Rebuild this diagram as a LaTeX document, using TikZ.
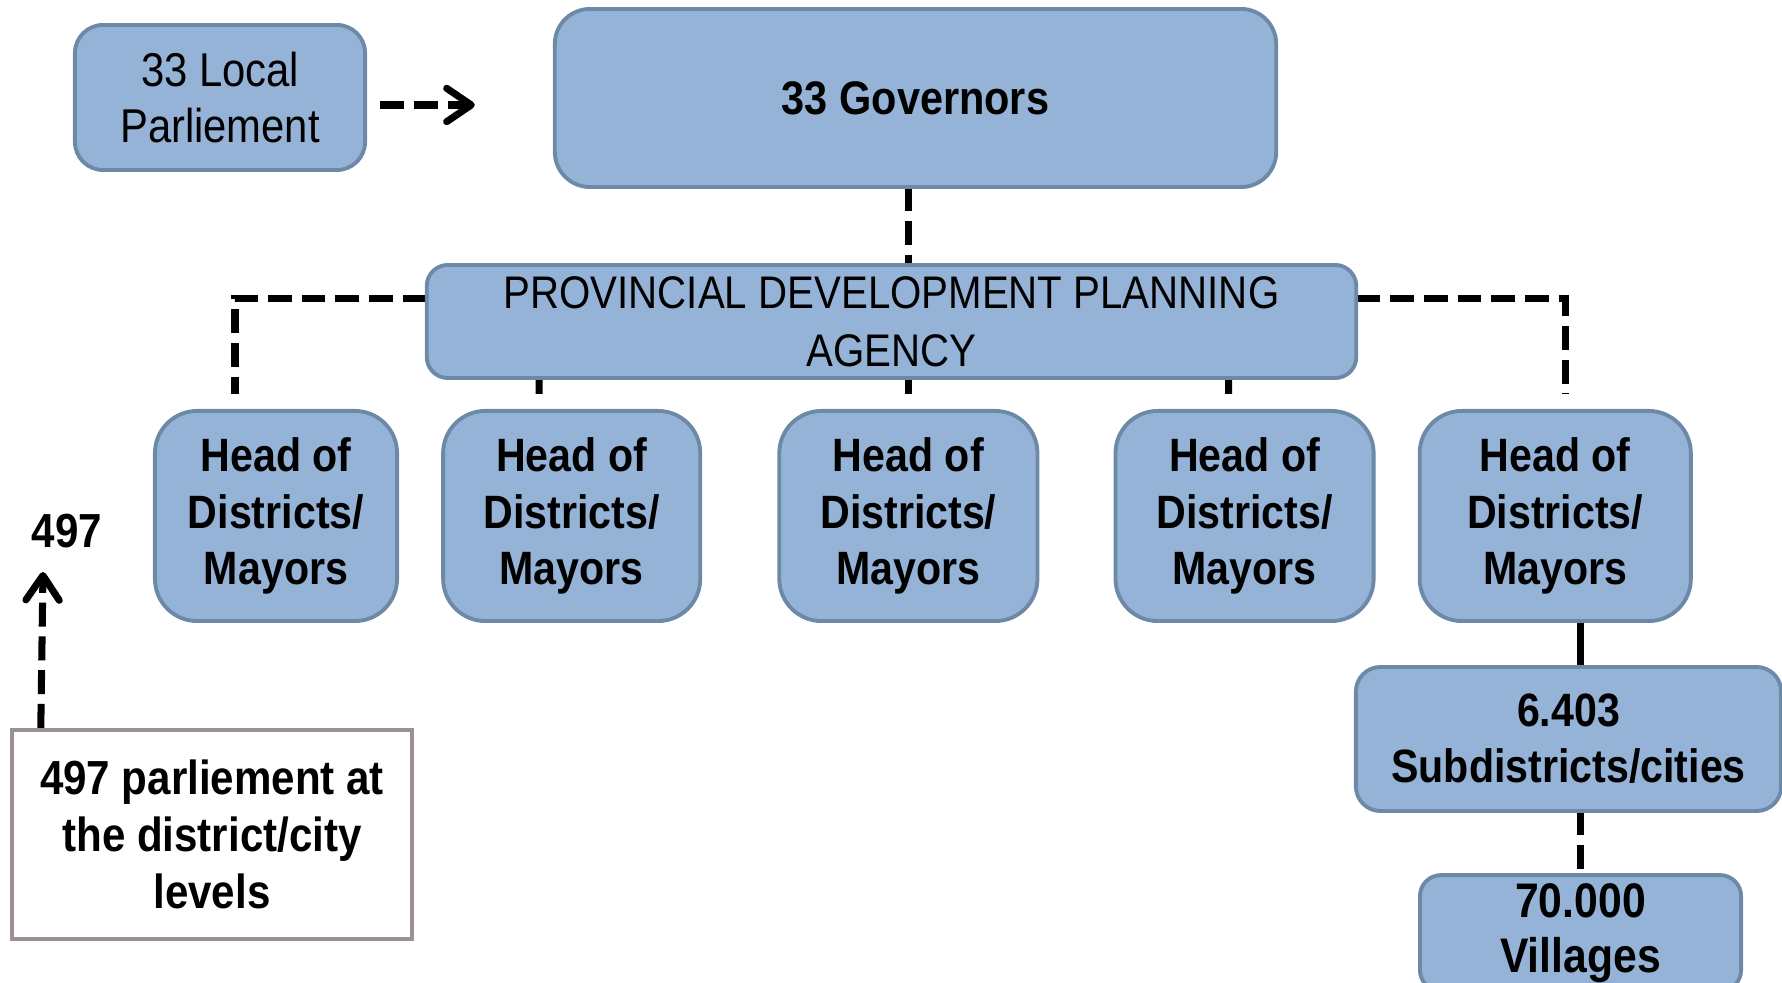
\documentclass[tikz,border=0pt]{standalone}
\usepackage{fontspec}
\setmainfont{Liberation Sans}[FakeStretch=0.88]
\usetikzlibrary{arrows.meta,positioning,backgrounds}
\definecolor{boxfill}{RGB}{149,179,215}
\definecolor{boxline}{RGB}{108,137,168}
\definecolor{noteline}{RGB}{155,145,145}
\tikzset{
  unit/.style={draw=boxline,fill=boxfill,line width=1.1pt,align=center,inner sep=0pt,outer sep=0pt},
  head/.style={unit,rounded corners=12pt,minimum height=2.1cm,font=\bfseries\fontsize{13.3}{16.1}\selectfont},
  dashline/.style={line width=2pt,dash pattern=on 6.8pt off 2.8pt},
  dasharrow/.style={dashline,-{Straight Barb[length=7pt,width=9.5pt,round]}},
}

\begin{document}
\begin{tikzpicture}[x=0.01cm,y=-0.01cm]
            \useasboundingbox (0,0) rectangle (1782,983);
            \clip (0,0) rectangle (1782,983);
            \node[unit,rounded corners=8pt,minimum width=2.9cm,minimum height=1.45cm,
                  font=\fontsize{13.5}{16}\selectfont] (lp) at (220,97.5) {33 Local\\Parliement};
            \node[unit,rounded corners=10pt,minimum width=7.21cm,minimum height=1.78cm,
                  font=\bfseries\fontsize{13.4}{16}\selectfont] (gov) at (915.5,98) {33 Governors};
            \node[unit,rounded corners=6pt,minimum width=9.29cm,minimum height=1.13cm,
                  font=\fontsize{13}{16.5}\selectfont] (pdpa) at (891.5,321.5) {PROVINCIAL DEVELOPMENT PLANNING\\AGENCY};
            \node[head,minimum width=2.42cm] (h1) at (276,516) {Head of\\Districts/\\Mayors};
            \node[head,minimum width=2.57cm,right=0.46cm of h1] (h2) {Head of\\Districts/\\Mayors};
            \node[head,minimum width=2.58cm,right=0.79cm of h2] (h3) {Head of\\Districts/\\Mayors};
            \node[head,minimum width=2.58cm,right=0.78cm of h3] (h4) {Head of\\Districts/\\Mayors};
            \node[head,minimum width=2.71cm,right=0.46cm of h4] (h5) {Head of\\Districts/\\Mayors};
            \node[unit,rounded corners=7pt,minimum width=4.25cm,minimum height=1.44cm,
                  font=\bfseries\fontsize{13.3}{16}\selectfont] (sub) at (1568.5,739) {6.403\\Subdistricts/cities};
            \node[unit,rounded corners=6pt,minimum width=3.21cm,minimum height=1.16cm,
                  font=\bfseries\fontsize{13.8}{15.6}\selectfont,below=0.64cm of sub,xshift=0.12cm] (vil) {70.000\\Villages};
            \node[draw=noteline,line width=1.2pt,fill=white,minimum width=4cm,minimum height=2.09cm,align=center,
                  font=\bfseries\fontsize{13.6}{16.2}\selectfont] (par) at (212,834.5) {497 parliement at\\the district/city\\levels};
            \node[inner sep=0pt,font=\bfseries\fontsize{13.6}{16}\selectfont] (num) at (67,531) {497};
            \coordinate (tip) at (43,572);
            \begin{scope}[on background layer]
                \draw[dasharrow] ([shift={(15,7.5)}]lp.east) -- ([shift={(-80,7)}]gov.west);
                \draw[dashline] (gov.south -| h3.north) -- (pdpa.north -| h3.north);
                \draw[dashline] ([shift={(0,-23)}]pdpa.west) -| ([shift={(-41,-17)}]h1.north);
                \draw[dashline] ([shift={(0,-23)}]pdpa.east) -| ([shift={(10,-17)}]h5.north);
                \draw[dashline] ([xshift=-0.325cm]h2.north |- pdpa.south) -- ([shift={(-32.5,-17)}]h2.north);
                \draw[dashline] (h3.north |- pdpa.south) -- ([shift={(0,-17)}]h3.north);
                \draw[dashline] ([xshift=-0.16cm]h4.north |- pdpa.south) -- ([shift={(-16,-17)}]h4.north);
                \draw[line width=2pt] (h5.south -| vil.north) -- (sub.north -| vil.north);
                \draw[dashline] (sub.south -| vil.north) -- (vil.north);
                \draw[dasharrow] ([xshift=0.31cm]par.north west) -- (tip);
            \end{scope}
        \end{tikzpicture}
\end{document}
